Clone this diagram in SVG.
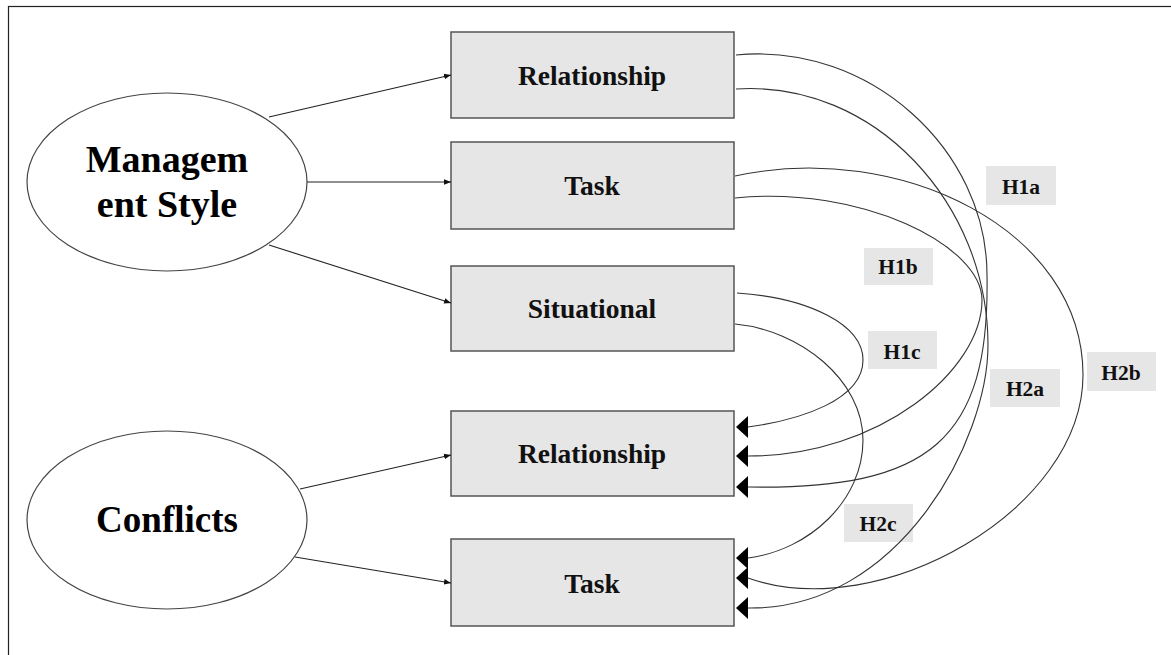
<svg xmlns="http://www.w3.org/2000/svg" width="1171" height="655" viewBox="0 0 1171 655">
<defs>
<style>
.frame{fill:#fff;stroke:#222;stroke-width:1.2}
.ell{fill:#fff;stroke:#444;stroke-width:1.2}
.box{fill:#e6e6e6;stroke:#555;stroke-width:1.5}
.tag{fill:#e6e6e6;stroke:none}
.big{font-family:"Liberation Serif","Times New Roman",serif;font-weight:bold;fill:#000;text-anchor:middle}
.lbl{font-family:"Liberation Serif","Times New Roman",serif;font-weight:bold;font-size:27.5px;fill:#111;text-anchor:middle}
.h{font-family:"Liberation Serif","Times New Roman",serif;font-weight:bold;font-size:21.5px;fill:#111;text-anchor:middle}
.ln{fill:none;stroke:#222;stroke-width:1.1}
.cv{fill:none;stroke:#333;stroke-width:1.1}
</style>
<marker id="sm" viewBox="0 0 10 10" refX="10" refY="5" markerWidth="7" markerHeight="7" markerUnits="userSpaceOnUse" orient="auto"><path d="M0,1 L10,5 L0,9 z" fill="#111"/></marker>
<marker id="big" viewBox="0 0 12 22" refX="12" refY="11" markerWidth="12" markerHeight="22" markerUnits="userSpaceOnUse" orient="0"><path d="M12,0 L0,11 L12,22 z" fill="#000"/></marker>
</defs>
<rect class="frame" x="8.5" y="6.5" width="1180" height="660"/>

<g id="mgmt">
<ellipse class="ell" cx="167" cy="182" rx="140" ry="89"/>
<text class="big" x="167" y="172" font-size="38">Managem</text>
<text class="big" x="167" y="217" font-size="38">ent Style</text>
</g>
<g id="conflicts">
<ellipse class="ell" cx="167" cy="520" rx="140" ry="89"/>
<text class="big" x="167" y="532" font-size="37">Conflicts</text>
</g>

<g id="ms-relationship"><rect class="box" x="451" y="32" width="283" height="86"/><text class="lbl" x="592" y="85">Relationship</text></g>
<g id="ms-task"><rect class="box" x="451" y="142" width="283" height="87"/><text class="lbl" x="592" y="195">Task</text></g>
<g id="ms-situational"><rect class="box" x="451" y="266" width="283" height="85"/><text class="lbl" x="592" y="318">Situational</text></g>
<g id="cf-relationship"><rect class="box" x="451" y="411" width="283" height="85"/><text class="lbl" x="592" y="463">Relationship</text></g>
<g id="cf-task"><rect class="box" x="451" y="539" width="283" height="87"/><text class="lbl" x="592" y="593">Task</text></g>

<g id="tags">
<g id="t-h1a"><rect class="tag" x="986" y="166" width="70" height="39"/><text class="h" x="1021" y="194">H1a</text></g>
<g id="t-h1b"><rect class="tag" x="864" y="248" width="69" height="37"/><text class="h" x="898" y="274">H1b</text></g>
<g id="t-h1c"><rect class="tag" x="868" y="331" width="69" height="38"/><text class="h" x="902" y="359">H1c</text></g>
<g id="t-h2a"><rect class="tag" x="990" y="369" width="70" height="38"/><text class="h" x="1025" y="396">H2a</text></g>
<g id="t-h2b"><rect class="tag" x="1087" y="352" width="69" height="39"/><text class="h" x="1121" y="380">H2b</text></g>
<g id="t-h2c"><rect class="tag" x="844" y="504" width="69" height="38"/><text class="h" x="878" y="531">H2c</text></g>
</g>

<g id="connectors">
<path class="ln" d="M269,117 L451,75" marker-end="url(#sm)"/>
<path class="ln" d="M307,182 L451,182" marker-end="url(#sm)"/>
<path class="ln" d="M269,245 L451,303" marker-end="url(#sm)"/>
<path class="ln" d="M300,489 L451,455" marker-end="url(#sm)"/>
<path class="ln" d="M295,557 L451,583" marker-end="url(#sm)"/>

<path class="cv" d="M736,55 C870,42 987,150 987,275 C990,440 930,490 748,487" marker-end="url(#big)"/>
<path class="cv" d="M736,89 C875,80 988,204 988,345 C988,440 900,610 748,608" marker-end="url(#big)"/>
<path class="cv" d="M735,176 C900,140 1083,230 1083,375 C1083,510 880,625 748,578" marker-end="url(#big)"/>
<path class="cv" d="M735,198 C860,185 982,245 982,300 C982,370 880,456 748,456" marker-end="url(#big)"/>
<path class="cv" d="M737,293 C810,298 863,325 863,360 C863,400 800,420 748,427" marker-end="url(#big)"/>
<path class="cv" d="M735,324 C800,330 863,380 863,440 C863,500 810,550 748,558" marker-end="url(#big)"/>
</g>
</svg>
